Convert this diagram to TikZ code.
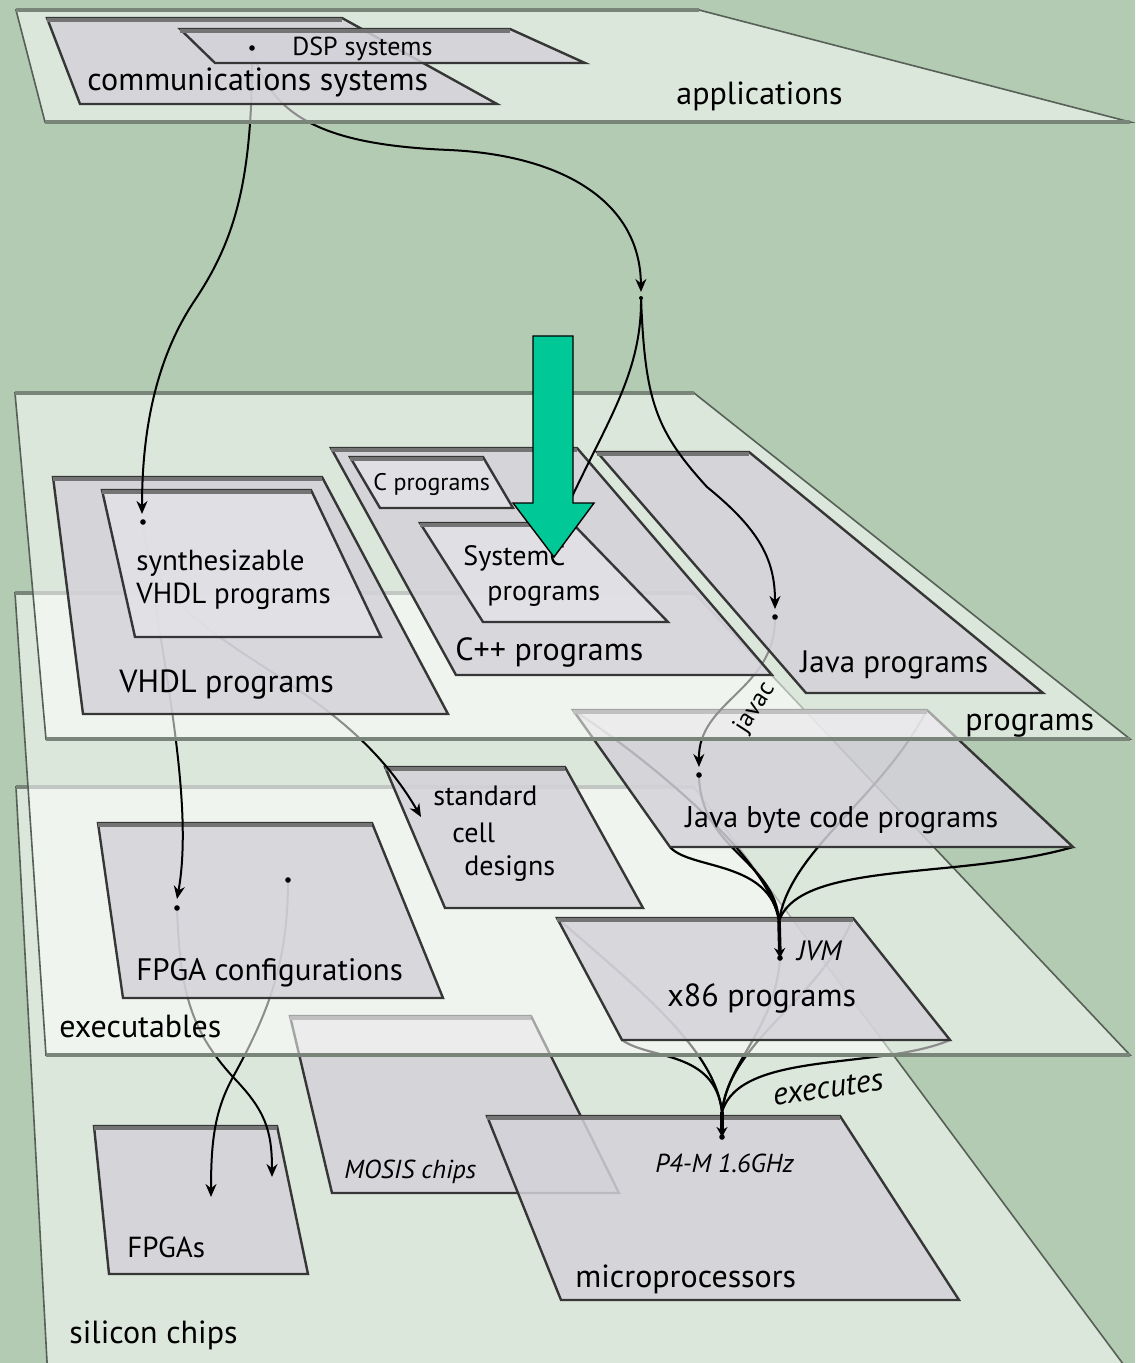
\documentclass[tikz,border=0pt]{standalone}
\usepackage{fontspec}
\setmainfont{PT Sans}
\usetikzlibrary{arrows.meta}
\definecolor{bgc}{HTML}{B3CAB3}
\definecolor{boxc}{HTML}{D4D2D9}
\definecolor{boxl}{HTML}{E3E2E6}
\definecolor{edgeg}{HTML}{7A857A}
\definecolor{edged}{HTML}{566056}
\definecolor{boxedge}{HTML}{363636}
\definecolor{boxtopc}{HTML}{747474}
\definecolor{arrowgreen}{HTML}{00C896}
\newcommand\myfs[1]{\fontsize{#1}{#1}\selectfont}
\newcommand\myquad[2]{% style, name
  \draw[#1] (#2-tl) -- (#2-tr) -- (#2-br) -- (#2-bl) -- cycle;
  \draw[boxtop] ([yshift=-1pt]#2-tl) -- ([yshift=-1pt]#2-tr);}
\newcommand\myplane[1]{%
  \draw[plane] (#1-tl) -- (#1-tr) -- (#1-br) -- (#1-bl) -- cycle;
  \draw[planetop] (#1-tl) -- (#1-tr);
  \draw[planetop] (#1-bl) -- (#1-br);}
\begin{document}
\begin{tikzpicture}[x=0.5pt,y=-0.5pt,
  plane/.style={fill=white, fill opacity=0.55, draw=edged, line width=0.8pt},
  planetop/.style={draw=edgeg, line width=2pt},
  qbox/.style={fill=boxc, fill opacity=0.85, draw=boxedge, line width=1.2pt},
  qboxl/.style={qbox, fill=boxl},
  boxtop/.style={draw=boxtopc, line width=2.2pt},
  conn/.style={draw=black, line width=1pt},
  arr/.style={conn, -{Stealth[length=6.5pt,width=5.5pt]}},
  fan/.style={draw=black, line width=1.1pt},
  stem/.style={draw=black, line width=1.8pt, -{Stealth[length=5pt,width=5.5pt]}},
  lbl/.style={inner sep=0pt, anchor=base west},
  dotn/.style={circle, fill=black, inner sep=0pt, minimum size=2.8pt},
]
\useasboundingbox (0,0) rectangle (1135,1363);
\clip (0,0) rectangle (1135,1363);
\fill[bgc] (0,0) rectangle (1135,1363);

% ---------- coordinates ----------
% applications
\coordinate (ap-tl) at (16,10);   \coordinate (ap-tr) at (699,10);
\coordinate (ap-br) at (1130,122); \coordinate (ap-bl) at (45,122);
\coordinate (cm-tl) at (47,18);   \coordinate (cm-tr) at (342,18);
\coordinate (cm-br) at (497,104); \coordinate (cm-bl) at (80,104);
\coordinate (dsp-tl) at (180,29); \coordinate (dsp-tr) at (510,29);
\coordinate (dsp-br) at (585,63); \coordinate (dsp-bl) at (215,63);
\coordinate (D0) at (252,48);
% programs
\coordinate (pr-tl) at (15,393);  \coordinate (pr-tr) at (694,393);
\coordinate (pr-br) at (1130,739); \coordinate (pr-bl) at (46,739);
\coordinate (vh-tl) at (53,477);  \coordinate (vh-tr) at (322,477);
\coordinate (vh-br) at (448,714); \coordinate (vh-bl) at (83,714);
\coordinate (sy-tl) at (102,490); \coordinate (sy-tr) at (311,490);
\coordinate (sy-br) at (381,637); \coordinate (sy-bl) at (135,637);
\coordinate (cp-tl) at (331,448); \coordinate (cp-tr) at (577,448);
\coordinate (cp-br) at (772,675); \coordinate (cp-bl) at (456,675);
\coordinate (c-tl) at (350,457);  \coordinate (c-tr) at (483,457);
\coordinate (c-br) at (513,508);  \coordinate (c-bl) at (380,508);
\coordinate (sc-tl) at (420,523); \coordinate (sc-tr) at (572,523);
\coordinate (sc-br) at (668,622); \coordinate (sc-bl) at (483,622);
\coordinate (jv-tl) at (597,452); \coordinate (jv-tr) at (749,452);
\coordinate (jv-br) at (1043,693); \coordinate (jv-bl) at (806,693);
\coordinate (P) at (641,292);
\coordinate (Pout) at (641,298);
\coordinate (S) at (143,522);   \coordinate (Sin) at (142,514);
\coordinate (J1) at (775,617);  \coordinate (J1in) at (775,609);
\coordinate (SCend) at (556,532);
% executables
\coordinate (ex-tl) at (15,593);  \coordinate (ex-tr) at (694,593);
\coordinate (ex-br) at (1130,1055); \coordinate (ex-bl) at (46,1055);
\coordinate (fc-tl) at (98,823);  \coordinate (fc-tr) at (372,823);
\coordinate (fc-br) at (443,998); \coordinate (fc-bl) at (123,998);
\coordinate (sd-tl) at (385,767); \coordinate (sd-tr) at (565,767);
\coordinate (sd-br) at (643,908); \coordinate (sd-bl) at (445,908);
\coordinate (x86-tl) at (557,918); \coordinate (x86-tr) at (853,918);
\coordinate (x86-br) at (950,1040); \coordinate (x86-bl) at (622,1040);
\coordinate (bc-tl) at (573,710); \coordinate (bc-tr) at (927,710);
\coordinate (bc-br) at (1073,847); \coordinate (bc-bl) at (670,847);
\coordinate (F1) at (177,908);  \coordinate (F1in) at (177,899);
\coordinate (F2) at (288,880);
\coordinate (stdin) at (421,817);
\coordinate (J2) at (699,775);  \coordinate (J2in) at (699,767);
\coordinate (C1) at (779,921);  \coordinate (J) at (780,958);
% silicon chips
\coordinate (si-tl) at (16,787);  \coordinate (si-tr) at (694,787);
\coordinate (si-br) at (1135,1380); \coordinate (si-bl) at (48,1380);
\coordinate (fg-tl) at (94,1126); \coordinate (fg-tr) at (277,1126);
\coordinate (fg-br) at (308,1274); \coordinate (fg-bl) at (109,1274);
\coordinate (mo-tl) at (290,1016); \coordinate (mo-tr) at (531,1016);
\coordinate (mo-br) at (619,1193); \coordinate (mo-bl) at (332,1193);
\coordinate (mp-tl) at (487,1116); \coordinate (mp-tr) at (840,1116);
\coordinate (mp-br) at (959,1300); \coordinate (mp-bl) at (561,1300);
\coordinate (fgA) at (272,1177); \coordinate (fgB) at (211,1197);
\coordinate (C2) at (722,1112); \coordinate (Q) at (722,1137);

% ---------- silicon chips level ----------
\myplane{si}
\myquad{qbox}{mo}
\myquad{qbox}{mp}
\myquad{qbox}{fg}
\node[lbl, font=\myfs{14.5}] (t-fpgas) at (127,1257) {FPGAs};
\node[lbl, font=\myfs{13}\itshape] (t-mosis) at (344,1178) {MOSIS chips};
\node[lbl, font=\myfs{16}] (t-micro) at (575,1287) {microprocessors};
\node[lbl, font=\myfs{13}\itshape] (t-p4) at (655,1172) {P4-M 1.6GHz};
\node[lbl, font=\myfs{16}] (t-sil) at (69,1343) {silicon chips};

% connectors executables -> silicon
\draw[arr] (F1) .. controls (180,990) and (190,1030) .. (233,1077)
  .. controls (265,1110) and (272,1130) .. (fgA);
\draw[arr] (F2) .. controls (288,960) and (270,1010) .. (233,1077)
  .. controls (215,1110) and (211,1140) .. (fgB);
\draw[fan] (x86-tl) .. controls (640,990) and (715,1050) .. (C2);
\draw[fan] (x86-bl) .. controls (650,1060) and (715,1050) .. (C2);
\draw[fan] (x86-tr) .. controls (820,1000) and (730,1040) .. (C2);
\draw[fan] (x86-br) .. controls (880,1070) and (740,1050) .. (C2);
\draw[fan] (J) .. controls (775,1030) and (728,1060) .. (C2);
\draw[stem] (C2) -- (Q);
\node[dotn] (dQ) at (Q) {};

% ---------- executables level ----------
\myplane{ex}
\myquad{qbox}{fc}
\myquad{qbox}{sd}
\myquad{qbox}{x86}
\node[lbl, font=\myfs{15.5}] (t-fc) at (136,980) {FPGA configurations};
\node[lbl, font=\myfs{14}] (t-sd1) at (433,805) {standard};
\node[lbl, font=\myfs{14}] (t-sd2) at (452,842) {cell};
\node[lbl, font=\myfs{14}] (t-sd3) at (464,875) {designs};
\node[lbl, font=\myfs{16}] (t-x86) at (667,1006) {x86 programs};
\node[lbl, font=\myfs{14}\itshape] (t-jvm) at (797,960) {JVM};
\node[lbl, font=\myfs{16}] (t-exe) at (59,1037) {executables};
\node[dotn] (dF1) at (F1) {};
\node[dotn] (dF2) at (F2) {};

% JVM fan (under the byte code box)
\draw[fan] (bc-tl) .. controls (650,760) and (770,860) .. (C1);
\draw[fan] (bc-tr) .. controls (880,800) and (790,850) .. (C1);
\draw[fan] (bc-br) .. controls (960,880) and (800,860) .. (C1);
\draw[fan] (bc-bl) .. controls (690,870) and (770,860) .. (C1);
\draw[fan] (J2) .. controls (700,850) and (775,860) .. (C1);
\draw[stem] (C1) -- (J);
\node[dotn] (dJ) at (J) {};

\myquad{qbox}{bc}
\node[lbl, font=\myfs{15}] (t-bc) at (685,827) {Java byte code programs};

% connectors programs -> executables
\draw[arr] (S) .. controls (160,650) and (195,800) .. (F1in);
\draw[arr] (S) .. controls (150,650) and (330,660) .. (stdin);
\draw[arr] (J1) .. controls (776,690) and (698,700) .. (J2in);
\node[dotn] (dJ2) at (J2) {};

% ---------- programs level ----------
\myplane{pr}
\myquad{qbox}{vh}
\myquad{qboxl}{sy}
\myquad{qbox}{cp}
\myquad{qboxl}{c}
\myquad{qboxl}{sc}
\myquad{qbox}{jv}
\node[lbl, font=\myfs{14.5}] (t-sy1) at (136,570) {synthesizable};
\node[lbl, font=\myfs{14.5}] (t-sy2) at (136,603) {VHDL programs};
\node[lbl, font=\myfs{16}] (t-vh) at (119,692) {VHDL programs};
\node[lbl, font=\myfs{12}] (t-c) at (373,490) {C programs};
\node[lbl, font=\myfs{14}] (t-sc1) at (463,565) {SystemC};
\node[lbl, font=\myfs{14}] (t-sc2) at (487,600) {programs};
\node[lbl, font=\myfs{16}] (t-cp) at (455,660) {C++ programs};
\node[lbl, font=\myfs{15.5}] (t-jv) at (800,672) {Java programs};
\node[lbl, font=\myfs{16}] (t-pr) at (965,730) {programs};
\node[dotn] (dS) at (S) {};
\node[dotn] (dJ1) at (J1) {};

% connectors applications -> programs
\draw[arr] (D0) .. controls (253,180) and (235,240) .. (195,300)
  .. controls (160,352) and (142,420) .. (Sin);
\draw[arr] (D0) .. controls (270,120) and (330,145) .. (449,150)
  .. controls (560,155) and (640,200) .. (P);
\draw[conn] (Pout) .. controls (642,380) and (600,430) .. (SCend);
\draw[arr] (Pout) .. controls (645,400) and (655,430) .. (707,487)
  .. controls (760,530) and (775,560) .. (J1in);
\node[dotn, minimum size=2pt] (dP) at (Pout) {};

% ---------- applications level ----------
\myplane{ap}
\myquad{qbox}{cm}
\myquad{qbox}{dsp}
\node[lbl, font=\myfs{13}] (t-dsp) at (292,56) {DSP systems};
\node[lbl, font=\myfs{16}] (t-cm) at (87,91) {communications systems};
\node[lbl, font=\myfs{16}] (t-ap) at (676,105) {applications};
\node[dotn] (dD0) at (D0) {};

% ---------- green arrow ----------
\draw[fill=arrowgreen, draw=black, line width=0.7pt]
  (533,336) -- (573,336) -- (573,503) -- (594,503) -- (554,557)
  -- (513,503) -- (533,503) -- cycle;

% ---------- edge labels ----------
\node[inner sep=0pt, font=\myfs{12.5}, rotate=57] (t-javac) at (755,708) {javac};
\node[inner sep=0pt, font=\myfs{16}\itshape, rotate=8] (t-execs) at (828,1088) {executes};
\end{tikzpicture}
\end{document}
